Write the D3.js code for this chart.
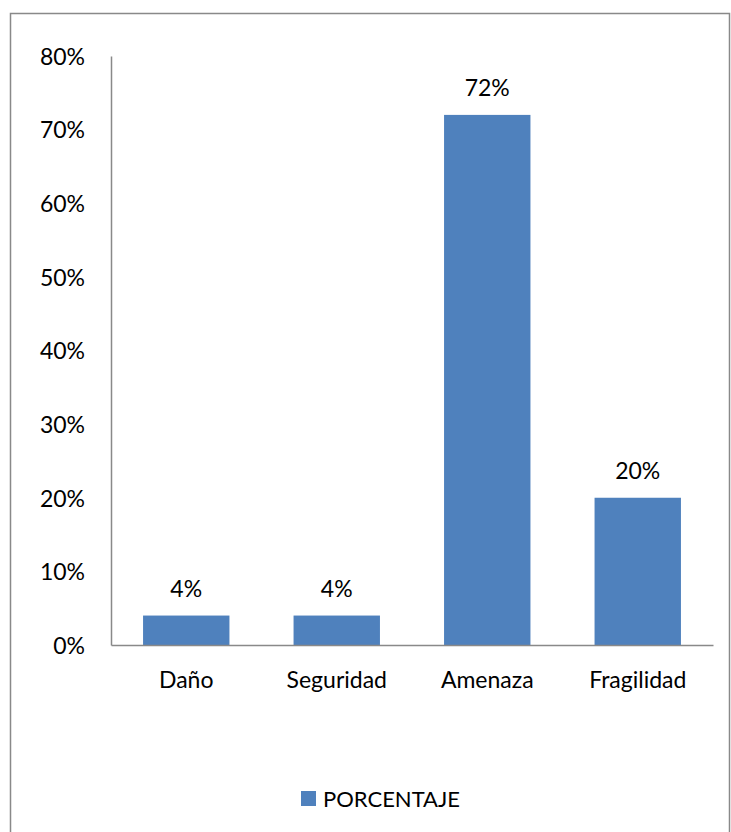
<!DOCTYPE html>
<html>
<head>
<meta charset="utf-8">
<script src="https://cdn.jsdelivr.net/npm/d3@7"></script>
<style>
  html, body { margin: 0; padding: 0; background: #fff; }
  svg text { font-family: Lato, "Open Sans", sans-serif; fill: #000; }
</style>
</head>
<body>
<svg id="chart" width="731" height="832"></svg>
<script>
// Categories and their percentage values
const categories = ["Daño", "Seguridad", "Amenaza", "Fragilidad"];
const values = [0.04, 0.04, 0.72, 0.20];
const yTicks = [0, 0.1, 0.2, 0.3, 0.4, 0.5, 0.6, 0.7, 0.8];
const seriesName = "PORCENTAJE";

const svg = d3.select("#chart");
const barColor = "#4f81bd";
const axisColor = "#898989";
const fontSize = "23px";

// Outer frame
svg.append("rect")
  .attr("x", 10.5).attr("y", 13.5)
  .attr("width", 719).attr("height", 830)
  .attr("fill", "none").attr("stroke", axisColor).attr("stroke-width", 1.5);

const plot = { left: 111, right: 713, top: 56, bottom: 645 };

const x = d3.scaleBand()
  .domain(categories)
  .range([plot.left, plot.right])
  .paddingInner(0.426)
  .paddingOuter(0.213);

const y = d3.scaleLinear()
  .domain([0, 0.8])
  .range([plot.bottom, plot.top]);

const pct = d3.format(".0%");

// Y axis (line + labels, no tick marks)
const yAxis = svg.append("g")
  .attr("transform", `translate(${plot.left},0)`)
  .call(d3.axisLeft(y).tickValues(yTicks).tickFormat(pct).tickSize(0).tickPadding(26));
yAxis.select(".domain").attr("stroke", axisColor).attr("stroke-width", 1.5);
yAxis.selectAll("text").style("font-size", fontSize).attr("font-family", null).attr("dy", "0.36em");

// Bars
svg.append("g").selectAll("rect")
  .data(values)
  .join("rect")
  .attr("x", (d, i) => x(categories[i]))
  .attr("y", d => y(d))
  .attr("width", x.bandwidth())
  .attr("height", d => y(0) - y(d))
  .attr("fill", barColor);

// Value labels above bars
svg.append("g").selectAll("text")
  .data(values)
  .join("text")
  .attr("x", (d, i) => x(categories[i]) + x.bandwidth() / 2)
  .attr("y", d => y(d) - 19)
  .attr("text-anchor", "middle")
  .style("font-size", fontSize)
  .text(d => pct(d));

// X axis (line + category labels, no tick marks)
const xAxis = svg.append("g")
  .attr("transform", `translate(0,${plot.bottom})`)
  .call(d3.axisBottom(x).tickSize(0).tickPadding(27));
xAxis.select(".domain").attr("stroke", axisColor).attr("stroke-width", 1.5);
xAxis.selectAll("text").style("font-size", fontSize).attr("font-family", null);

// Legend
const legend = svg.append("g");
legend.append("rect")
  .attr("x", 301).attr("y", 791)
  .attr("width", 15).attr("height", 15)
  .attr("fill", barColor);
legend.append("text")
  .attr("x", 323).attr("y", 807)
  .style("font-size", "22px")
  .text(seriesName);
</script>
</body>
</html>
